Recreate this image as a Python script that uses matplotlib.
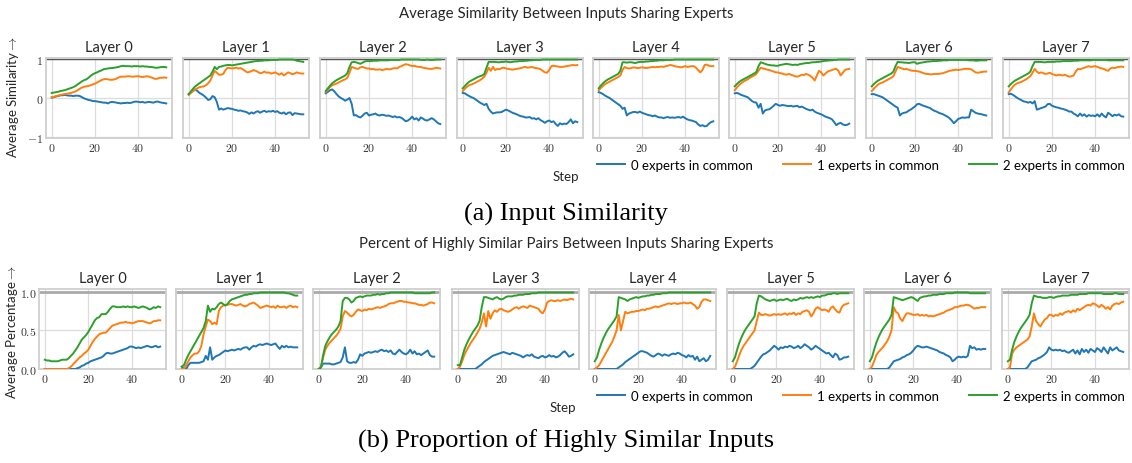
import numpy as np
import matplotlib
matplotlib.use('Agg')
import matplotlib.pyplot as plt

plt.rcParams['font.family'] = ['Lato', 'DejaVu Sans']
plt.rcParams['mathtext.fontset'] = 'cm'

layers = ['Layer %d' % i for i in range(8)]
labels = ['0 experts in common', '1 experts in common', '2 experts in common']
colors = ['#1f77b4', '#ff7f0e', '#2ca02c']

# ---------------- (a) average similarity, one list per layer ----------------
sim_0 = [
    [0.01, 0.02, 0.04, 0.05, 0.07, 0.07, 0.08, 0.07, 0.06, 0.06,
     0.05, 0.06, 0.06, 0.05, 0.02, -0.01, -0.03, -0.05, -0.06, -0.08,
     -0.08, -0.09, -0.10, -0.11, -0.12, -0.12, -0.14, -0.11, -0.10, -0.11,
     -0.12, -0.13, -0.14, -0.13, -0.13, -0.12, -0.13, -0.12, -0.10, -0.09,
     -0.10, -0.11, -0.10, -0.12, -0.11, -0.10, -0.11, -0.12, -0.10, -0.09,
     -0.11, -0.12, -0.13, -0.14],
    [0.10, 0.14, 0.18, 0.22, 0.18, 0.13, 0.10, 0.06, 0.01, -0.05,
     -0.03, 0.05, 0.02, -0.10, -0.30, -0.27, -0.30, -0.28, -0.26, -0.27,
     -0.28, -0.30, -0.31, -0.33, -0.32, -0.34, -0.35, -0.37, -0.41, -0.37,
     -0.40, -0.36, -0.34, -0.38, -0.35, -0.33, -0.36, -0.34, -0.35, -0.33,
     -0.36, -0.34, -0.38, -0.40, -0.37, -0.42, -0.38, -0.37, -0.44, -0.39,
     -0.40, -0.41, -0.42, -0.42],
    [0.12, 0.16, 0.20, 0.22, 0.17, 0.10, 0.04, 0.00, -0.03, -0.07,
     -0.04, 0.00, -0.15, -0.45, -0.44, -0.48, -0.50, -0.46, -0.40, -0.38,
     -0.45, -0.43, -0.42, -0.40, -0.44, -0.45, -0.43, -0.44, -0.46, -0.45,
     -0.47, -0.49, -0.47, -0.50, -0.49, -0.51, -0.55, -0.60, -0.58, -0.54,
     -0.48, -0.55, -0.52, -0.58, -0.50, -0.53, -0.57, -0.58, -0.55, -0.52,
     -0.55, -0.60, -0.65, -0.67],
    [0.13, 0.12, 0.08, 0.05, 0.02, 0.00, -0.04, -0.08, -0.12, -0.15,
     -0.18, -0.15, -0.28, -0.35, -0.40, -0.38, -0.37, -0.37, -0.36, -0.33,
     -0.30, -0.32, -0.35, -0.38, -0.40, -0.42, -0.45, -0.47, -0.48, -0.50,
     -0.50, -0.49, -0.53, -0.52, -0.55, -0.52, -0.57, -0.60, -0.64, -0.60,
     -0.58, -0.62, -0.60, -0.67, -0.72, -0.65, -0.68, -0.66, -0.67, -0.62,
     -0.55, -0.65, -0.60, -0.62],
    [0.15, 0.13, 0.10, 0.06, 0.03, 0.00, -0.04, -0.08, -0.12, -0.16,
     -0.20, -0.28, -0.25, -0.45, -0.40, -0.38, -0.36, -0.36, -0.38, -0.35,
     -0.38, -0.40, -0.42, -0.44, -0.45, -0.47, -0.45, -0.48, -0.50, -0.50,
     -0.52, -0.50, -0.49, -0.51, -0.50, -0.51, -0.50, -0.49, -0.51, -0.48,
     -0.52, -0.55, -0.57, -0.58, -0.60, -0.62, -0.68, -0.72, -0.70, -0.73,
     -0.72, -0.66, -0.62, -0.60],
    [0.12, 0.13, 0.11, 0.08, 0.06, 0.04, 0.02, -0.03, -0.08, -0.11,
     -0.12, -0.25, -0.15, -0.40, -0.32, -0.30, -0.29, -0.25, -0.20, -0.15,
     -0.18, -0.20, -0.18, -0.19, -0.20, -0.21, -0.20, -0.22, -0.21, -0.20,
     -0.24, -0.22, -0.25, -0.28, -0.30, -0.32, -0.30, -0.35, -0.38, -0.40,
     -0.42, -0.45, -0.48, -0.50, -0.52, -0.55, -0.62, -0.70, -0.66, -0.64,
     -0.68, -0.70, -0.69, -0.66],
    [0.10, 0.10, 0.08, 0.06, 0.04, 0.02, -0.02, -0.06, -0.10, -0.14,
     -0.18, -0.22, -0.25, -0.45, -0.40, -0.38, -0.37, -0.33, -0.30, -0.26,
     -0.22, -0.16, -0.15, -0.18, -0.20, -0.22, -0.24, -0.26, -0.30, -0.33,
     -0.35, -0.38, -0.40, -0.42, -0.45, -0.48, -0.52, -0.58, -0.65, -0.60,
     -0.54, -0.52, -0.50, -0.51, -0.50, -0.50, -0.30, -0.34, -0.38, -0.40,
     -0.41, -0.42, -0.44, -0.45],
    [0.10, 0.11, 0.08, 0.04, 0.00, -0.03, -0.06, -0.09, -0.10, -0.12,
     -0.10, -0.14, -0.08, -0.30, -0.28, -0.26, -0.24, -0.22, -0.16, -0.15,
     -0.20, -0.22, -0.24, -0.25, -0.27, -0.28, -0.30, -0.32, -0.35, -0.35,
     -0.40, -0.43, -0.47, -0.40, -0.46, -0.42, -0.48, -0.44, -0.46, -0.45,
     -0.47, -0.42, -0.48, -0.40, -0.46, -0.50, -0.38, -0.42, -0.47, -0.43,
     -0.45, -0.42, -0.47, -0.48],
]
sim_1 = [
    [0.02, 0.03, 0.05, 0.06, 0.08, 0.09, 0.10, 0.11, 0.12, 0.13,
     0.15, 0.17, 0.20, 0.24, 0.27, 0.29, 0.30, 0.31, 0.33, 0.35,
     0.37, 0.40, 0.43, 0.46, 0.48, 0.49, 0.48, 0.47, 0.47, 0.48,
     0.50, 0.53, 0.55, 0.55, 0.55, 0.56, 0.56, 0.55, 0.55, 0.56,
     0.56, 0.55, 0.54, 0.55, 0.56, 0.55, 0.53, 0.51, 0.49, 0.50,
     0.52, 0.52, 0.53, 0.52],
    [0.08, 0.13, 0.18, 0.22, 0.25, 0.28, 0.29, 0.30, 0.33, 0.38,
     0.45, 0.58, 0.70, 0.65, 0.60, 0.60, 0.62, 0.72, 0.78, 0.77,
     0.76, 0.77, 0.78, 0.76, 0.77, 0.74, 0.70, 0.66, 0.67, 0.69,
     0.72, 0.70, 0.67, 0.64, 0.65, 0.68, 0.65, 0.66, 0.63, 0.64,
     0.66, 0.63, 0.60, 0.64, 0.58, 0.62, 0.66, 0.64, 0.61, 0.63,
     0.66, 0.64, 0.63, 0.63],
    [0.15, 0.22, 0.28, 0.33, 0.35, 0.37, 0.40, 0.43, 0.46, 0.48,
     0.52, 0.65, 0.80, 0.78, 0.76, 0.75, 0.79, 0.80, 0.78, 0.76,
     0.76, 0.74, 0.75, 0.73, 0.73, 0.74, 0.72, 0.73, 0.75, 0.74,
     0.74, 0.76, 0.77, 0.76, 0.80, 0.82, 0.85, 0.87, 0.86, 0.84,
     0.82, 0.83, 0.81, 0.80, 0.80, 0.78, 0.77, 0.76, 0.75, 0.75,
     0.76, 0.78, 0.77, 0.76],
    [0.18, 0.24, 0.29, 0.33, 0.35, 0.37, 0.40, 0.43, 0.46, 0.50,
     0.55, 0.65, 0.78, 0.70, 0.80, 0.72, 0.75, 0.74, 0.77, 0.78,
     0.76, 0.75, 0.74, 0.73, 0.74, 0.75, 0.76, 0.77, 0.79, 0.80,
     0.78, 0.79, 0.80, 0.78, 0.77, 0.76, 0.74, 0.70, 0.66, 0.65,
     0.72, 0.82, 0.83, 0.82, 0.81, 0.80, 0.80, 0.81, 0.82, 0.83,
     0.84, 0.85, 0.84, 0.85],
    [0.20, 0.26, 0.31, 0.36, 0.39, 0.42, 0.45, 0.48, 0.51, 0.54,
     0.58, 0.72, 0.80, 0.77, 0.76, 0.77, 0.79, 0.78, 0.77, 0.78,
     0.79, 0.78, 0.77, 0.78, 0.79, 0.80, 0.79, 0.80, 0.80, 0.81,
     0.80, 0.82, 0.83, 0.85, 0.84, 0.82, 0.81, 0.80, 0.79, 0.80,
     0.82, 0.80, 0.81, 0.82, 0.82, 0.78, 0.72, 0.66, 0.72, 0.85,
     0.86, 0.83, 0.82, 0.82],
    [0.20, 0.27, 0.33, 0.38, 0.42, 0.45, 0.48, 0.52, 0.55, 0.58,
     0.62, 0.70, 0.78, 0.76, 0.75, 0.73, 0.72, 0.70, 0.68, 0.66,
     0.66, 0.64, 0.63, 0.61, 0.60, 0.62, 0.60, 0.58, 0.56, 0.55,
     0.57, 0.60, 0.59, 0.62, 0.60, 0.57, 0.52, 0.45, 0.58, 0.70,
     0.66, 0.58, 0.63, 0.68, 0.70, 0.72, 0.74, 0.75, 0.70, 0.58,
     0.65, 0.72, 0.74, 0.75],
    [0.18, 0.24, 0.30, 0.35, 0.38, 0.40, 0.43, 0.46, 0.49, 0.52,
     0.56, 0.68, 0.80, 0.78, 0.76, 0.74, 0.75, 0.73, 0.71, 0.70,
     0.70, 0.69, 0.68, 0.66, 0.64, 0.62, 0.62, 0.61, 0.61, 0.62,
     0.62, 0.62, 0.63, 0.64, 0.66, 0.68, 0.70, 0.71, 0.72, 0.73,
     0.72, 0.73, 0.74, 0.75, 0.75, 0.75, 0.74, 0.70, 0.66, 0.65,
     0.66, 0.67, 0.68, 0.68],
    [0.15, 0.22, 0.30, 0.35, 0.38, 0.40, 0.42, 0.45, 0.48, 0.52,
     0.56, 0.65, 0.75, 0.68, 0.64, 0.66, 0.64, 0.62, 0.63, 0.65,
     0.62, 0.60, 0.58, 0.60, 0.59, 0.58, 0.60, 0.57, 0.55, 0.56,
     0.58, 0.68, 0.75, 0.74, 0.76, 0.78, 0.80, 0.82, 0.80, 0.81,
     0.82, 0.80, 0.78, 0.76, 0.75, 0.72, 0.70, 0.76, 0.78, 0.77,
     0.79, 0.80, 0.81, 0.80],
]
sim_2 = [
    [0.13, 0.14, 0.15, 0.16, 0.18, 0.19, 0.20, 0.22, 0.24, 0.26,
     0.28, 0.31, 0.35, 0.39, 0.43, 0.46, 0.48, 0.52, 0.57, 0.61,
     0.64, 0.66, 0.69, 0.71, 0.74, 0.75, 0.76, 0.77, 0.77, 0.78,
     0.79, 0.80, 0.82, 0.83, 0.82, 0.82, 0.82, 0.81, 0.82, 0.82,
     0.82, 0.81, 0.82, 0.81, 0.81, 0.80, 0.80, 0.79, 0.78, 0.78,
     0.79, 0.80, 0.80, 0.79],
    [0.10, 0.17, 0.24, 0.30, 0.34, 0.38, 0.42, 0.46, 0.50, 0.54,
     0.58, 0.68, 0.80, 0.74, 0.80, 0.81, 0.83, 0.84, 0.85, 0.85,
     0.84, 0.85, 0.86, 0.87, 0.88, 0.89, 0.90, 0.91, 0.92, 0.93,
     0.94, 0.95, 0.95, 0.96, 0.96, 0.97, 0.97, 0.97, 0.98, 0.98,
     0.98, 0.98, 0.99, 0.99, 0.99, 0.99, 0.99, 0.99, 0.99, 0.98,
     0.96, 0.95, 0.94, 0.93],
    [0.18, 0.25, 0.32, 0.38, 0.42, 0.46, 0.49, 0.52, 0.55, 0.58,
     0.64, 0.80, 0.92, 0.93, 0.92, 0.90, 0.88, 0.91, 0.94, 0.95,
     0.95, 0.95, 0.96, 0.96, 0.96, 0.97, 0.97, 0.97, 0.97, 0.97,
     0.98, 0.98, 0.98, 0.98, 0.98, 0.99, 0.99, 0.99, 0.99, 0.99,
     0.99, 0.99, 0.99, 0.99, 0.98, 0.98, 0.98, 0.99, 0.98, 0.98,
     0.98, 0.99, 0.99, 0.99],
    [0.25, 0.31, 0.37, 0.42, 0.45, 0.48, 0.51, 0.54, 0.56, 0.58,
     0.62, 0.78, 0.93, 0.93, 0.93, 0.93, 0.92, 0.92, 0.93, 0.93,
     0.94, 0.93, 0.92, 0.93, 0.94, 0.94, 0.95, 0.95, 0.95, 0.96,
     0.96, 0.97, 0.97, 0.98, 0.98, 0.98, 0.98, 0.99, 0.99, 0.99,
     0.99, 0.99, 0.99, 0.99, 0.99, 0.99, 0.99, 0.99, 0.99, 0.99,
     0.99, 0.99, 0.99, 0.99],
    [0.25, 0.32, 0.38, 0.43, 0.47, 0.50, 0.53, 0.56, 0.59, 0.62,
     0.70, 0.92, 0.92, 0.91, 0.92, 0.92, 0.91, 0.90, 0.92, 0.93,
     0.93, 0.93, 0.94, 0.94, 0.95, 0.95, 0.96, 0.96, 0.97, 0.97,
     0.97, 0.98, 0.98, 0.98, 0.98, 0.99, 0.99, 0.99, 0.99, 0.99,
     0.99, 0.99, 0.99, 0.99, 0.99, 0.99, 0.99, 0.99, 0.99, 0.99,
     0.99, 0.99, 0.99, 0.99],
    [0.30, 0.36, 0.41, 0.45, 0.48, 0.51, 0.54, 0.57, 0.60, 0.63,
     0.67, 0.82, 0.92, 0.90, 0.88, 0.86, 0.85, 0.84, 0.84, 0.83,
     0.83, 0.85, 0.86, 0.87, 0.88, 0.87, 0.86, 0.85, 0.86, 0.85,
     0.87, 0.88, 0.89, 0.90, 0.90, 0.91, 0.92, 0.92, 0.93, 0.93,
     0.94, 0.95, 0.96, 0.96, 0.97, 0.97, 0.98, 0.98, 0.99, 0.99,
     0.99, 0.99, 0.99, 0.99],
    [0.30, 0.36, 0.41, 0.45, 0.48, 0.51, 0.54, 0.57, 0.60, 0.63,
     0.68, 0.82, 0.93, 0.92, 0.92, 0.91, 0.91, 0.90, 0.91, 0.92,
     0.92, 0.88, 0.90, 0.91, 0.92, 0.93, 0.94, 0.94, 0.95, 0.95,
     0.95, 0.96, 0.96, 0.97, 0.97, 0.97, 0.98, 0.98, 0.98, 0.98,
     0.98, 0.98, 0.98, 0.98, 0.98, 0.97, 0.97, 0.97, 0.96, 0.96,
     0.97, 0.97, 0.97, 0.97],
    [0.30, 0.36, 0.41, 0.45, 0.48, 0.51, 0.54, 0.57, 0.60, 0.63,
     0.68, 0.82, 0.93, 0.93, 0.93, 0.93, 0.92, 0.92, 0.93, 0.93,
     0.93, 0.93, 0.94, 0.94, 0.94, 0.95, 0.95, 0.95, 0.95, 0.95,
     0.96, 0.96, 0.96, 0.97, 0.97, 0.97, 0.97, 0.97, 0.97, 0.98,
     0.98, 0.98, 0.98, 0.98, 0.98, 0.98, 0.97, 0.97, 0.97, 0.97,
     0.97, 0.97, 0.97, 0.97],
]

# ---------------- (b) share of highly similar pairs ----------------
pct_0 = [
    [0, 0, 0, 0, 0, 0, 0, 0, 0, 0,
     0, 0, 0, 0, 0, 0.01, 0.02, 0.04, 0.05, 0.07,
     0.08, 0.10, 0.11, 0.12, 0.13, 0.14, 0.15, 0.17, 0.20, 0.21,
     0.20, 0.20, 0.21, 0.22, 0.23, 0.24, 0.25, 0.26, 0.27, 0.29,
     0.29, 0.28, 0.27, 0.28, 0.27, 0.28, 0.29, 0.30, 0.29, 0.28,
     0.29, 0.30, 0.28, 0.29],
    [0.03, 0.00, 0.00, 0.05, 0.08, 0.08, 0.08, 0.08, 0.08, 0.09,
     0.10, 0.17, 0.12, 0.28, 0.12, 0.15, 0.17, 0.18, 0.20, 0.22,
     0.24, 0.23, 0.24, 0.25, 0.24, 0.25, 0.26, 0.25, 0.27, 0.28,
     0.28, 0.25, 0.28, 0.30, 0.29, 0.31, 0.32, 0.31, 0.32, 0.33,
     0.32, 0.31, 0.32, 0.33, 0.29, 0.26, 0.30, 0.28, 0.30, 0.28,
     0.29, 0.28, 0.28, 0.28],
    [0.00, 0.02, 0.07, 0.07, 0.07, 0.07, 0.06, 0.06, 0.07, 0.08,
     0.09, 0.15, 0.28, 0.10, 0.08, 0.08, 0.09, 0.08, 0.12, 0.19,
     0.17, 0.20, 0.21, 0.22, 0.21, 0.22, 0.23, 0.22, 0.24, 0.25,
     0.23, 0.24, 0.22, 0.24, 0.20, 0.19, 0.22, 0.25, 0.22, 0.20,
     0.19, 0.21, 0.25, 0.20, 0.23, 0.19, 0.20, 0.18, 0.20, 0.22,
     0.24, 0.18, 0.16, 0.16],
    [0, 0, 0, 0, 0, 0, 0, 0, 0, 0.02,
     0.04, 0.06, 0.09, 0.11, 0.13, 0.15, 0.17, 0.18, 0.19, 0.20,
     0.21, 0.22, 0.21, 0.20, 0.19, 0.21, 0.20, 0.19, 0.18, 0.17,
     0.15, 0.17, 0.18, 0.17, 0.19, 0.16, 0.15, 0.14, 0.16, 0.17,
     0.15, 0.16, 0.18, 0.16, 0.17, 0.15, 0.16, 0.18, 0.21, 0.23,
     0.20, 0.16, 0.17, 0.19],
    [0, 0, 0, 0, 0, 0, 0, 0, 0, 0,
     0.00, 0.02, 0.04, 0.06, 0.09, 0.11, 0.13, 0.15, 0.17, 0.19,
     0.21, 0.23, 0.23, 0.22, 0.21, 0.19, 0.17, 0.16, 0.18, 0.20,
     0.19, 0.17, 0.19, 0.18, 0.17, 0.19, 0.20, 0.19, 0.21, 0.20,
     0.18, 0.17, 0.15, 0.18, 0.16, 0.17, 0.12, 0.16, 0.10, 0.12,
     0.14, 0.10, 0.12, 0.17],
    [0, 0, 0, 0, 0, 0, 0, 0, 0, 0.02,
     0.04, 0.08, 0.12, 0.16, 0.19, 0.20, 0.22, 0.24, 0.27, 0.30,
     0.28, 0.25, 0.28, 0.27, 0.29, 0.28, 0.30, 0.29, 0.27, 0.28,
     0.30, 0.27, 0.29, 0.32, 0.30, 0.28, 0.25, 0.27, 0.30, 0.28,
     0.26, 0.24, 0.22, 0.20, 0.21, 0.18, 0.15, 0.20, 0.18, 0.12,
     0.13, 0.15, 0.15, 0.16],
    [0, 0, 0, 0, 0, 0, 0, 0, 0, 0.02,
     0.06, 0.10, 0.11, 0.12, 0.13, 0.15, 0.16, 0.18, 0.19, 0.21,
     0.24, 0.28, 0.30, 0.29, 0.28, 0.28, 0.29, 0.28, 0.27, 0.26,
     0.25, 0.24, 0.22, 0.21, 0.20, 0.18, 0.17, 0.15, 0.10, 0.12,
     0.15, 0.16, 0.15, 0.16, 0.15, 0.17, 0.30, 0.27, 0.28, 0.25,
     0.26, 0.25, 0.26, 0.26],
    [0, 0, 0, 0, 0, 0, 0, 0, 0, 0.02,
     0.06, 0.10, 0.11, 0.12, 0.14, 0.15, 0.17, 0.19, 0.22, 0.28,
     0.25, 0.24, 0.25, 0.24, 0.25, 0.23, 0.24, 0.22, 0.21, 0.23,
     0.25, 0.20, 0.24, 0.19, 0.26, 0.22, 0.25, 0.21, 0.26, 0.24,
     0.22, 0.27, 0.25, 0.22, 0.28, 0.24, 0.20, 0.28, 0.24, 0.26,
     0.28, 0.24, 0.23, 0.22],
]
pct_1 = [
    [0, 0, 0, 0, 0, 0, 0, 0, 0, 0,
     0.00, 0.01, 0.03, 0.06, 0.09, 0.12, 0.15, 0.17, 0.20, 0.22,
     0.25, 0.30, 0.35, 0.39, 0.42, 0.45, 0.46, 0.47, 0.47, 0.50,
     0.53, 0.56, 0.57, 0.58, 0.59, 0.60, 0.60, 0.61, 0.60, 0.60,
     0.59, 0.60, 0.61, 0.62, 0.62, 0.62, 0.61, 0.60, 0.59, 0.60,
     0.62, 0.62, 0.63, 0.63],
    [0.00, 0.00, 0.05, 0.10, 0.15, 0.18, 0.20, 0.20, 0.23, 0.30,
     0.45, 0.55, 0.64, 0.62, 0.58, 0.60, 0.58, 0.75, 0.80, 0.82,
     0.83, 0.83, 0.84, 0.84, 0.83, 0.82, 0.83, 0.84, 0.82, 0.81,
     0.82, 0.84, 0.85, 0.86, 0.84, 0.82, 0.79, 0.80, 0.81, 0.82,
     0.81, 0.80, 0.81, 0.79, 0.82, 0.80, 0.80, 0.81, 0.79, 0.81,
     0.82, 0.80, 0.81, 0.80],
    [0.00, 0.03, 0.15, 0.25, 0.30, 0.34, 0.37, 0.40, 0.43, 0.47,
     0.52, 0.68, 0.75, 0.73, 0.70, 0.68, 0.70, 0.74, 0.77, 0.76,
     0.75, 0.77, 0.76, 0.78, 0.77, 0.78, 0.79, 0.80, 0.79, 0.80,
     0.81, 0.82, 0.84, 0.85, 0.85, 0.86, 0.87, 0.88, 0.88, 0.87,
     0.87, 0.86, 0.86, 0.85, 0.85, 0.84, 0.83, 0.83, 0.82, 0.83,
     0.84, 0.86, 0.86, 0.85],
    [0.00, 0.03, 0.10, 0.18, 0.24, 0.29, 0.34, 0.38, 0.42, 0.47,
     0.52, 0.60, 0.72, 0.55, 0.75, 0.65, 0.72, 0.76, 0.74, 0.77,
     0.78, 0.76, 0.75, 0.74, 0.75, 0.77, 0.79, 0.80, 0.78, 0.80,
     0.81, 0.80, 0.79, 0.82, 0.81, 0.80, 0.79, 0.78, 0.74, 0.72,
     0.77, 0.86, 0.88, 0.89, 0.88, 0.88, 0.89, 0.88, 0.89, 0.90,
     0.89, 0.90, 0.91, 0.90],
    [0.00, 0.02, 0.05, 0.10, 0.15, 0.20, 0.25, 0.30, 0.35, 0.42,
     0.50, 0.70, 0.50, 0.62, 0.74, 0.72, 0.73, 0.74, 0.74, 0.75,
     0.75, 0.76, 0.77, 0.76, 0.78, 0.78, 0.79, 0.80, 0.81, 0.80,
     0.81, 0.82, 0.83, 0.84, 0.85, 0.84, 0.85, 0.85, 0.84, 0.85,
     0.85, 0.86, 0.85, 0.85, 0.86, 0.84, 0.82, 0.78, 0.80, 0.87,
     0.90, 0.90, 0.89, 0.88],
    [0.00, 0.03, 0.10, 0.18, 0.25, 0.30, 0.34, 0.38, 0.42, 0.46,
     0.50, 0.62, 0.73, 0.70, 0.70, 0.71, 0.70, 0.69, 0.70, 0.71,
     0.70, 0.71, 0.70, 0.71, 0.72, 0.70, 0.72, 0.71, 0.73, 0.70,
     0.72, 0.71, 0.74, 0.75, 0.76, 0.74, 0.68, 0.72, 0.78, 0.80,
     0.78, 0.76, 0.77, 0.76, 0.74, 0.79, 0.81, 0.77, 0.74, 0.73,
     0.80, 0.83, 0.84, 0.85],
    [0.00, 0.03, 0.10, 0.18, 0.22, 0.25, 0.28, 0.32, 0.36, 0.42,
     0.50, 0.80, 0.74, 0.72, 0.65, 0.62, 0.68, 0.72, 0.72, 0.71,
     0.70, 0.70, 0.71, 0.69, 0.70, 0.69, 0.70, 0.68, 0.69, 0.68,
     0.69, 0.70, 0.71, 0.72, 0.73, 0.75, 0.76, 0.77, 0.78, 0.80,
     0.80, 0.81, 0.82, 0.82, 0.83, 0.83, 0.82, 0.80, 0.78, 0.79,
     0.79, 0.80, 0.80, 0.80],
    [0.00, 0.02, 0.20, 0.25, 0.28, 0.30, 0.32, 0.34, 0.36, 0.38,
     0.42, 0.55, 0.72, 0.62, 0.58, 0.55, 0.60, 0.64, 0.66, 0.70,
     0.70, 0.68, 0.70, 0.69, 0.72, 0.70, 0.73, 0.74, 0.75, 0.73,
     0.76, 0.74, 0.78, 0.76, 0.78, 0.80, 0.82, 0.83, 0.82, 0.85,
     0.84, 0.82, 0.80, 0.83, 0.81, 0.78, 0.80, 0.77, 0.82, 0.84,
     0.85, 0.84, 0.86, 0.87],
]
pct_2 = [
    [0.12, 0.11, 0.11, 0.10, 0.10, 0.10, 0.10, 0.11, 0.12, 0.12,
     0.12, 0.14, 0.17, 0.20, 0.24, 0.28, 0.33, 0.38, 0.41, 0.44,
     0.48, 0.53, 0.58, 0.63, 0.66, 0.67, 0.71, 0.71, 0.71, 0.74,
     0.78, 0.81, 0.81, 0.80, 0.80, 0.80, 0.81, 0.80, 0.81, 0.80,
     0.80, 0.81, 0.80, 0.79, 0.80, 0.81, 0.80, 0.79, 0.77, 0.78,
     0.80, 0.79, 0.81, 0.80],
    [0.03, 0.05, 0.12, 0.18, 0.23, 0.28, 0.33, 0.38, 0.43, 0.48,
     0.53, 0.62, 0.82, 0.74, 0.78, 0.77, 0.80, 0.84, 0.86, 0.84,
     0.82, 0.84, 0.88, 0.90, 0.91, 0.92, 0.93, 0.94, 0.95, 0.96,
     0.96, 0.97, 0.97, 0.98, 0.98, 0.98, 0.99, 0.99, 0.99, 0.99,
     0.99, 0.99, 0.99, 0.99, 0.99, 0.99, 0.99, 0.99, 0.98, 0.98,
     0.97, 0.96, 0.95, 0.95],
    [0.00, 0.02, 0.18, 0.30, 0.36, 0.41, 0.45, 0.48, 0.51, 0.55,
     0.62, 0.88, 0.92, 0.92, 0.90, 0.86, 0.88, 0.92, 0.93, 0.94,
     0.93, 0.94, 0.95, 0.95, 0.95, 0.96, 0.96, 0.97, 0.96, 0.97,
     0.97, 0.98, 0.98, 0.99, 0.99, 0.99, 0.99, 0.99, 0.99, 0.99,
     0.99, 0.99, 0.99, 0.99, 0.98, 0.98, 0.98, 0.98, 0.98, 0.98,
     0.98, 0.98, 0.99, 0.99],
    [0.05, 0.05, 0.15, 0.25, 0.32, 0.38, 0.43, 0.48, 0.52, 0.56,
     0.62, 0.80, 0.93, 0.93, 0.92, 0.91, 0.90, 0.92, 0.93, 0.91,
     0.90, 0.91, 0.93, 0.94, 0.94, 0.94, 0.95, 0.95, 0.96, 0.96,
     0.96, 0.97, 0.97, 0.97, 0.98, 0.98, 0.98, 0.99, 0.99, 0.99,
     0.99, 0.99, 0.99, 0.99, 0.99, 0.99, 0.99, 0.99, 0.99, 0.99,
     0.99, 0.99, 0.99, 0.99],
    [0.10, 0.15, 0.25, 0.33, 0.40, 0.46, 0.51, 0.55, 0.59, 0.63,
     0.68, 0.93, 0.92, 0.91, 0.90, 0.88, 0.90, 0.91, 0.92, 0.93,
     0.92, 0.93, 0.94, 0.94, 0.95, 0.95, 0.96, 0.96, 0.97, 0.97,
     0.97, 0.98, 0.98, 0.98, 0.99, 0.99, 0.99, 0.99, 0.99, 0.99,
     0.99, 0.99, 0.99, 0.99, 0.99, 0.99, 0.99, 0.99, 0.99, 0.99,
     0.99, 0.99, 0.99, 0.99],
    [0.10, 0.15, 0.25, 0.34, 0.41, 0.47, 0.52, 0.56, 0.60, 0.64,
     0.68, 0.85, 0.95, 0.94, 0.92, 0.90, 0.89, 0.88, 0.89, 0.90,
     0.88, 0.89, 0.90, 0.89, 0.90, 0.91, 0.89, 0.88, 0.90, 0.89,
     0.90, 0.92, 0.91, 0.92, 0.93, 0.92, 0.93, 0.92, 0.93, 0.94,
     0.93, 0.95, 0.95, 0.96, 0.97, 0.97, 0.98, 0.98, 0.97, 0.98,
     0.98, 0.98, 0.98, 0.98],
    [0.10, 0.15, 0.25, 0.34, 0.41, 0.47, 0.52, 0.56, 0.60, 0.64,
     0.70, 0.93, 0.92, 0.91, 0.90, 0.89, 0.90, 0.91, 0.92, 0.93,
     0.92, 0.90, 0.88, 0.92, 0.93, 0.94, 0.94, 0.95, 0.95, 0.96,
     0.96, 0.96, 0.97, 0.97, 0.97, 0.98, 0.98, 0.98, 0.98, 0.99,
     0.99, 0.99, 0.99, 0.99, 0.99, 0.99, 0.98, 0.98, 0.98, 0.98,
     0.98, 0.98, 0.98, 0.98],
    [0.10, 0.12, 0.25, 0.35, 0.42, 0.48, 0.53, 0.57, 0.61, 0.65,
     0.70, 0.85, 0.95, 0.94, 0.93, 0.93, 0.92, 0.92, 0.92, 0.93,
     0.93, 0.92, 0.93, 0.94, 0.94, 0.95, 0.95, 0.95, 0.95, 0.96,
     0.96, 0.96, 0.96, 0.97, 0.97, 0.97, 0.97, 0.98, 0.98, 0.98,
     0.98, 0.98, 0.98, 0.98, 0.97, 0.97, 0.97, 0.97, 0.97, 0.98,
     0.98, 0.97, 0.97, 0.97],
]

W, H = 1132, 464
fig = plt.figure(figsize=(W / 100, H / 100), dpi=100)


def px_axes(left, top, width, height):
    # place an axes from pixel coords (origin top-left)
    return fig.add_axes([left / W, 1 - (top + height) / H, width / W, height / H])


def draw_panel(series, lefts, top, width, ylim, yticks, yticklabels, refcolor, reflw):
    axes = []
    for i in range(8):
        ax = px_axes(lefts[i], top, width, 80)
        for k in range(3):
            y = series[k][i]
            ax.plot(np.arange(len(y)), y, color=colors[k], lw=1.4, label=labels[k], zorder=3)
        ax.axhline(1, color=refcolor, lw=reflw, zorder=2)
        ax.set_ylim(*ylim)
        ax.set_xticks([0, 20, 40], labels=['$0$', '$20$', '$40$'])
        ax.set_yticks(yticks)
        if i == 0:
            ax.set_yticklabels(yticklabels)
        else:
            ax.set_yticklabels([])
        ax.grid(True, color='#dcdcdc', lw=0.9)
        ax.set_axisbelow(True)
        for s in ax.spines.values():
            s.set_color('#cfcfcf')
            s.set_linewidth(1.3)
        ax.tick_params(length=0, labelsize=8.5, pad=2, colors='#333333')
        ax.set_title(layers[i], fontsize=10.5, pad=5, color='#262626')
        axes.append(ax)
    return axes


legend_kw = dict(loc='center', ncol=3, frameon=False, fontsize=9.5,
                 handlelength=2.1, columnspacing=2.3, handletextpad=0.45)

# panel (a)
axes_a = draw_panel([sim_0, sim_1, sim_2], [46, 183, 320, 457, 593, 729, 866, 1003], 59, 126,
                    (-1.03, 1.03), [-1, 0, 1], ['$-1$', '$0$', '$1$'], '#555555', 1.0)
fig.text(566 / W, 1 - 14 / H, 'Average Similarity Between Inputs Sharing Experts',
         ha='center', va='center', fontsize=10.8, color='#262626')
fig.text(13 / W, 1 - 97 / H, 'Average Similarity$\\rightarrow$', rotation=90,
         ha='center', va='center', fontsize=9.5, color='#262626')
fig.text(566 / W, 1 - 177 / H, 'Step', ha='center', va='center', fontsize=9.5, color='#262626')
h, l = axes_a[0].get_legend_handles_labels()
fig.legend(h, l, bbox_to_anchor=(861 / W, 1 - 166 / H), **legend_kw)
fig.text(566 / W, 1 - 214 / H, '(a) Input Similarity', ha='center', va='center',
         fontsize=19, family='Liberation Serif')

# panel (b)
axes_b = draw_panel([pct_0, pct_1, pct_2], [39, 176, 313, 452, 589, 727, 864, 1002], 290, 127,
                    (0.0, 1.035), [0.0, 0.5, 1.0], ['$0.0$', '$0.5$', '$1.0$'], '#aaaaaa', 2.0)
fig.text(566 / W, 1 - 244 / H, 'Percent of Highly Similar Pairs Between Inputs Sharing Experts',
         ha='center', va='center', fontsize=10.8, color='#262626')
fig.text(12 / W, 1 - 332 / H, 'Average Percentage$\\rightarrow$', rotation=90,
         ha='center', va='center', fontsize=9.5, color='#262626')
fig.text(563 / W, 1 - 408 / H, 'Step', ha='center', va='center', fontsize=9.5, color='#262626')
h, l = axes_b[0].get_legend_handles_labels()
fig.legend(h, l, bbox_to_anchor=(861 / W, 1 - 397 / H), **legend_kw)
fig.text(566 / W, 1 - 441 / H, '(b) Proportion of Highly Similar Inputs', ha='center', va='center',
         fontsize=19, family='Liberation Serif')

fig.savefig('out.png', dpi=100)
